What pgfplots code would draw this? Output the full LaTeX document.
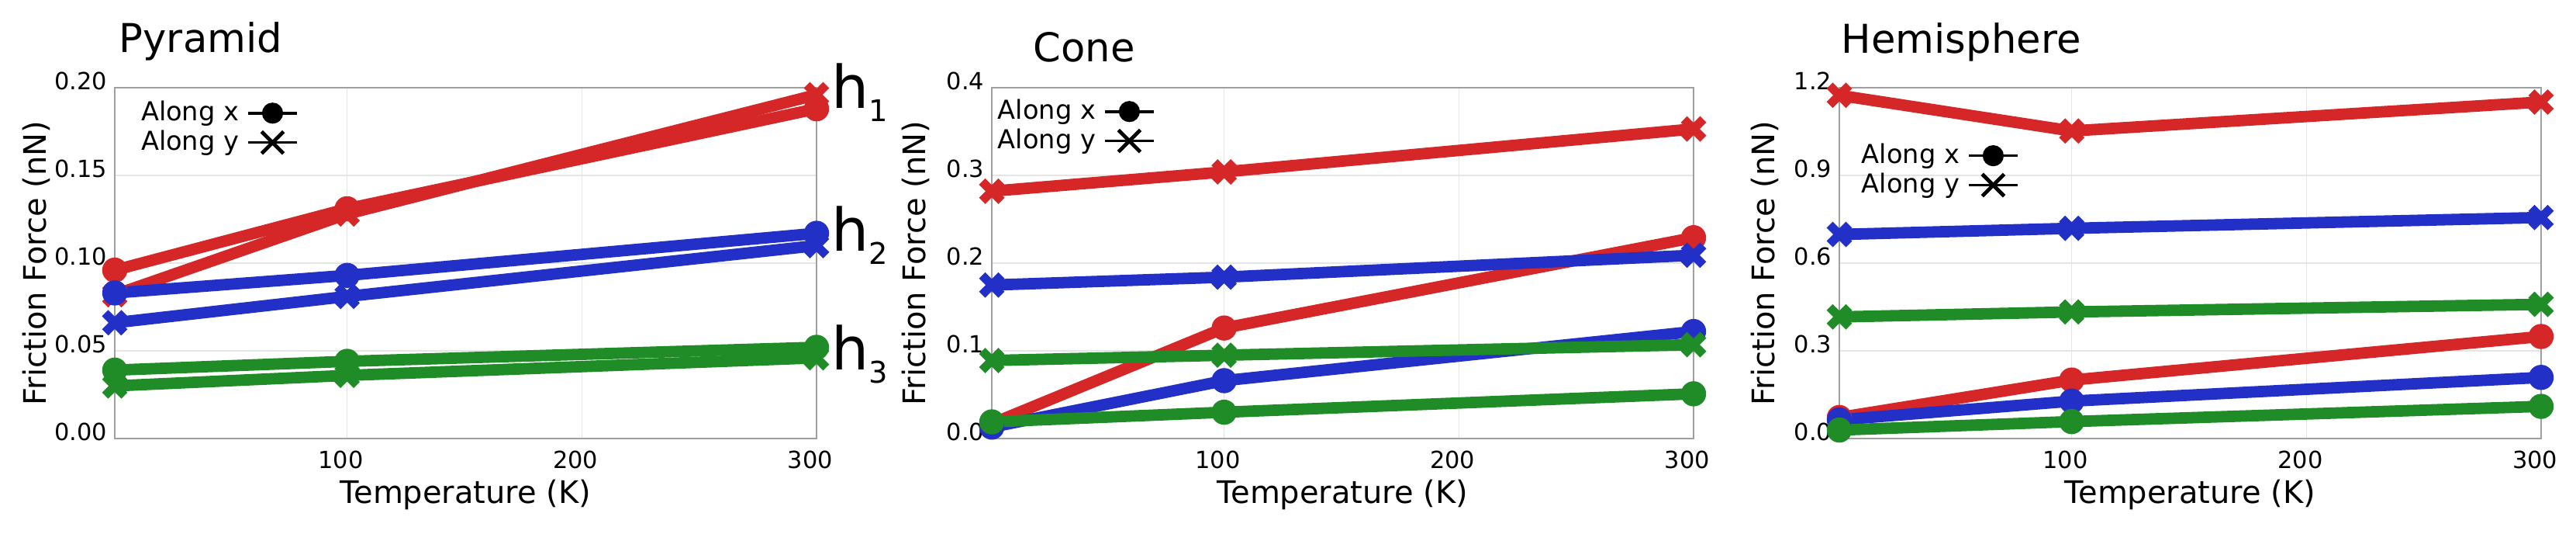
\documentclass[border=0pt]{standalone}
\usepackage{fontspec}
\setmainfont{DejaVu Sans}
\usepackage{pgfplots}
\pgfplotsset{compat=1.18}
\definecolor{cr}{RGB}{214,39,40}
\definecolor{cb}{RGB}{35,48,200}
\definecolor{cg}{RGB}{32,140,40}
\pgfplotsset{
  common/.style={
    scale only axis, width=226.25pt, height=113pt, anchor=south west,
    xmin=1, xmax=300, xtick={100,200,300},
    grid=major, major grid style={gray!20, line width=0.4pt},
    axis line style={draw=gray!75, line width=0.5pt},
    major tick length=0pt,
    clip=false, scaled y ticks=false,
    /pgf/number format/assume math mode=true,
    tick label style={font=\fontsize{7.6}{8}\selectfont},
    xticklabel style={anchor=north, inner sep=0pt, yshift=-3.75pt, xshift=-2pt},
    yticklabel style={anchor=base east, inner sep=0pt, xshift=-2.25pt, yshift=-0.5pt},
    xlabel={Temperature (K)}, ylabel={Friction Force (nN)},
    label style={font=\fontsize{9}{10}\selectfont},
    every axis x label/.style={at={(axis description cs:0.5,0)}, anchor=base, yshift=-20.75pt},
    every axis y label/.style={at={(axis description cs:-0.095,0.5)}, rotate=90, anchor=base},
    legend plot pos=right,
    legend cell align=left,
    legend style={draw=none, fill=none, inner sep=0pt, outer sep=0pt,
      row sep=1.6pt, column sep=2.5pt,
      font=\fontsize{8.4}{9}\selectfont,
      cells={anchor=west}, nodes={inner sep=0pt}},
    legend image code/.code={\draw[mark repeat=2,mark phase=2] plot coordinates {(0pt,0pt) (7.9pt,0pt) (15.75pt,0pt)};},
  },
  cx/.style={line width=3.7pt, line join=round, mark=*, mark size=3.7pt, mark options={solid, line width=0.7pt}},
  cy/.style={line width=3.7pt, line join=round, mark=x, mark size=4.4pt, mark options={solid, line width=2.8pt}},
  lgx/.style={black, line width=0.9pt, mark=*, mark size=3.2pt, mark options={line width=0.4pt}},
  lgy/.style={black, line width=0.9pt, mark=x, mark size=5pt, mark options={line width=1.2pt}},
}
\begin{document}
\begin{tikzpicture}
\path (0,0) rectangle (830.5pt,171.75pt);
% Pyramid
\begin{axis}[common, at={(37pt,30.5pt)},
  ymin=0, ymax=0.2, ytick={0,0.05,0.1,0.15,0.2},
  yticklabel style={/pgf/number format/fixed, /pgf/number format/fixed zerofill, /pgf/number format/precision=2},
  legend style={at={(axis description cs:0.0376,0.9624)}, anchor=north west},
  ylabel style={at={(axis description cs:-0.0983,0.5)}}]
\addlegendimage{lgx}\addlegendentry{Along x}
\addlegendimage{lgy}\addlegendentry{Along y}
\addplot[cr, cx] coordinates {(1,0.096) (100,0.131) (300,0.188)};
\addplot[cr, cy] coordinates {(1,0.082) (100,0.128) (300,0.196)};
\addplot[cb, cx] coordinates {(1,0.083) (100,0.093) (300,0.117)};
\addplot[cb, cy] coordinates {(1,0.066) (100,0.081) (300,0.110)};
\addplot[cg, cx] coordinates {(1,0.039) (100,0.044) (300,0.052)};
\addplot[cg, cy] coordinates {(1,0.030) (100,0.036) (300,0.046)};
\end{axis}
% Cone
\begin{axis}[common, at={(319.75pt,30.5pt)},
  ymin=0, ymax=0.4, ytick={0,0.1,0.2,0.3,0.4},
  yticklabel style={/pgf/number format/fixed, /pgf/number format/fixed zerofill, /pgf/number format/precision=1},
  legend style={at={(axis description cs:0.0088,0.967)}, anchor=north west},
  ylabel style={at={(axis description cs:-0.095,0.5)}}]
\addlegendimage{lgx}\addlegendentry{Along x}
\addlegendimage{lgy}\addlegendentry{Along y}
\addplot[cr, cx] coordinates {(1,0.017) (100,0.126) (300,0.229)};
\addplot[cr, cy] coordinates {(1,0.282) (100,0.304) (300,0.353)};
\addplot[cb, cx] coordinates {(1,0.013) (100,0.066) (300,0.122)};
\addplot[cb, cy] coordinates {(1,0.175) (100,0.184) (300,0.209)};
\addplot[cg, cx] coordinates {(1,0.019) (100,0.030) (300,0.051)};
\addplot[cg, cy] coordinates {(1,0.089) (100,0.095) (300,0.107)};
\end{axis}
% Hemisphere
\begin{axis}[common, at={(593pt,30.5pt)},
  ymin=0, ymax=1.2, ytick={0,0.3,0.6,0.9,1.2},
  yticklabel style={/pgf/number format/fixed, /pgf/number format/fixed zerofill, /pgf/number format/precision=1},
  legend style={at={(axis description cs:0.032,0.841)}, anchor=north west},
  ylabel style={at={(axis description cs:-0.0927,0.5)}}]
\addlegendimage{lgx}\addlegendentry{Along x}
\addlegendimage{lgy}\addlegendentry{Along y}
\addplot[cr, cx] coordinates {(1,0.072) (100,0.200) (300,0.349)};
\addplot[cr, cy] coordinates {(1,1.174) (100,1.052) (300,1.151)};
\addplot[cb, cx] coordinates {(1,0.064) (100,0.128) (300,0.209)};
\addplot[cb, cy] coordinates {(1,0.698) (100,0.719) (300,0.756)};
\addplot[cg, cx] coordinates {(1,0.029) (100,0.058) (300,0.110)};
\addplot[cg, cy] coordinates {(1,0.416) (100,0.433) (300,0.459)};
\end{axis}
% titles
\node[anchor=base west, inner sep=0pt, font=\fontsize{12.8}{14}\selectfont] at (38.25pt,154.75pt) {Pyramid};
\node[anchor=base west, inner sep=0pt, font=\fontsize{12.8}{14}\selectfont] at (333pt,151.75pt) {Cone};
\node[anchor=base west, inner sep=0pt, font=\fontsize{12.8}{14}\selectfont] at (593.5pt,154.5pt) {Hemisphere};
% h labels
\node[anchor=base west, inner sep=0pt] at (268pt,136.75pt) {\fontsize{19}{19}\selectfont h\raisebox{-4.25pt}{\fontsize{9.6}{9.6}\selectfont 1}};
\node[anchor=base west, inner sep=0pt] at (268pt,91pt) {\fontsize{19}{19}\selectfont h\raisebox{-4.25pt}{\fontsize{9.6}{9.6}\selectfont 2}};
\node[anchor=base west, inner sep=0pt] at (268pt,52.6pt) {\fontsize{19}{19}\selectfont h\raisebox{-4.25pt}{\fontsize{9.6}{9.6}\selectfont 3}};
\end{tikzpicture}
\end{document}
